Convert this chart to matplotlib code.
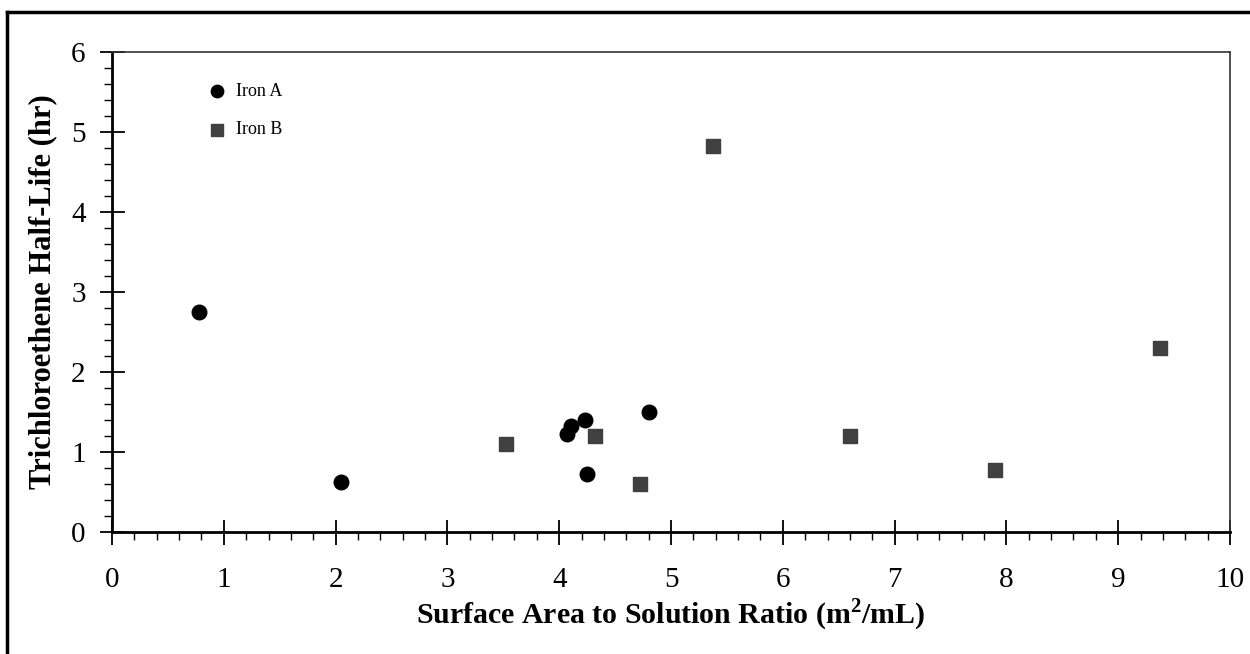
import matplotlib.pyplot as plt
from matplotlib.lines import Line2D
from matplotlib.ticker import MultipleLocator

plt.rcParams['font.family'] = ['Liberation Serif', 'DejaVu Serif']
plt.rcParams['mathtext.fontset'] = 'custom'
plt.rcParams['mathtext.rm'] = 'Liberation Serif'
plt.rcParams['mathtext.bf'] = 'Liberation Serif:bold'

# data
iron_a_x = [0.78, 2.05, 4.07, 4.11, 4.23, 4.25, 4.80]
iron_a_y = [2.75, 0.63, 1.23, 1.33, 1.40, 0.73, 1.50]
iron_b_x = [3.52, 4.32, 4.72, 5.38, 6.60, 7.90, 9.37]
iron_b_y = [1.10, 1.20, 0.60, 4.83, 1.20, 0.78, 2.30]

fig = plt.figure(figsize=(12.5, 6.54), dpi=100)
ax = fig.add_axes([0.0896, 0.1865, 0.8944, 0.734])

ax.scatter(iron_a_x, iron_a_y, marker='o', s=110, color='black', label='Iron A', zorder=3)
ax.scatter(iron_b_x, iron_b_y, marker='s', s=100, color='#404040', label='Iron B', zorder=3)

ax.set_xlim(0, 10)
ax.set_ylim(0, 6)
ax.xaxis.set_major_locator(MultipleLocator(1))
ax.xaxis.set_minor_locator(MultipleLocator(0.2))
ax.yaxis.set_major_locator(MultipleLocator(1))
ax.yaxis.set_minor_locator(MultipleLocator(0.2))
ax.tick_params(which='major', direction='inout', length=18, width=1.3, labelsize=21)
ax.tick_params(axis='x', which='major', pad=16)
ax.tick_params(axis='y', which='major', pad=10)
ax.tick_params(which='minor', direction='out', length=6, width=1.0)

for side in ['left', 'bottom']:
    ax.spines[side].set_linewidth(2)
for side in ['top', 'right']:
    ax.spines[side].set_linewidth(1.2)
    ax.spines[side].set_color('#333333')

ax.set_xlabel('Surface Area to Solution Ratio (m$^{\\mathbf{2}}$/mL)', fontsize=21.5,
              fontweight='bold', labelpad=3)
ax.set_ylabel('Trichloroethene Half-Life (hr)', fontsize=22, fontweight='bold', labelpad=10)

ax.legend(loc='upper left', bbox_to_anchor=(0.07, 0.955), frameon=False, fontsize=13,
          handletextpad=0.05, labelspacing=1.2, markerscale=0.85, borderpad=0)

# outer frame (only top and left edge visible)
fig.add_artist(Line2D([7 / 1250, 1], [1 - 12 / 654, 1 - 12 / 654], color='black', lw=2.5, transform=fig.transFigure))
fig.add_artist(Line2D([7 / 1250, 7 / 1250], [0, 1 - 12 / 654], color='black', lw=2.5, transform=fig.transFigure))

fig.savefig('out.png', dpi=100)
